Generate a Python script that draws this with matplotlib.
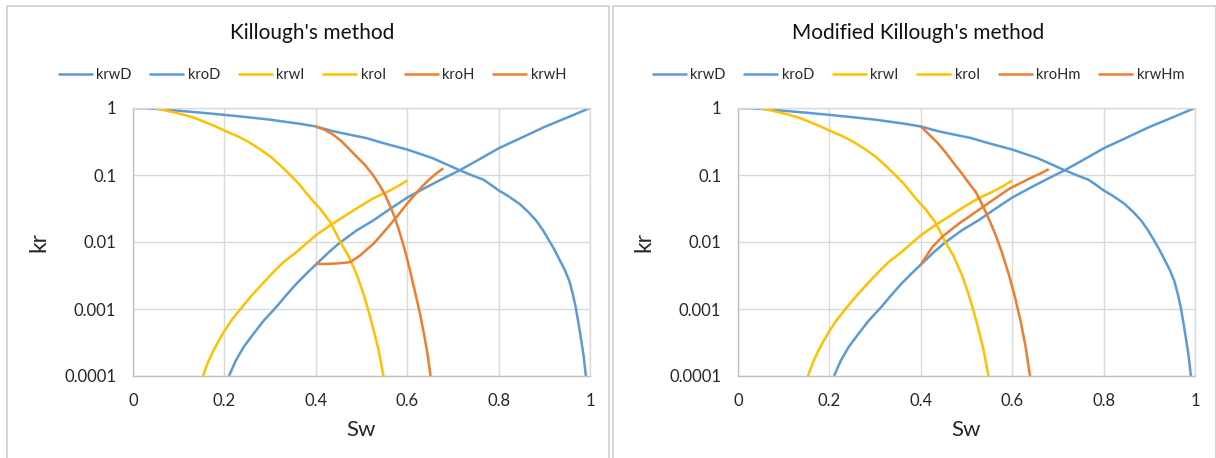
import matplotlib
matplotlib.use("Agg")
import matplotlib.pyplot as plt
from matplotlib.patches import Rectangle
from matplotlib.ticker import FixedLocator, NullLocator

plt.rcParams['font.family'] = ['Lato', 'DejaVu Sans']

# ---------------- data ----------------
krwD_x = [0.21, 0.225, 0.242, 0.264, 0.286, 0.315, 0.335, 0.358, 0.38, 0.4, 0.43, 0.453, 0.49, 0.526,
          0.562, 0.6, 0.635, 0.672, 0.694, 0.712, 0.75, 0.8, 0.85, 0.9, 0.95, 1.0]
krwD_y = [1e-4, 1.7e-4, 2.7e-4, 4.3e-4, 6.7e-4, 1.1e-3, 1.6e-3, 2.4e-3, 3.4e-3, 4.6e-3, 7.2e-3, 9.8e-3,
          1.5e-2, 2.1e-2, 3.1e-2, 4.6e-2, 6.2e-2, 8.4e-2, 0.1, 0.115, 0.16, 0.25, 0.36, 0.52, 0.72, 1.0]

kroD_x = [0.0, 0.03, 0.052, 0.1, 0.15, 0.2, 0.25, 0.3, 0.366, 0.4, 0.438, 0.474, 0.511, 0.547, 0.6, 0.656,
          0.712, 0.74, 0.767, 0.785, 0.8, 0.82, 0.846, 0.865, 0.882, 0.897, 0.911, 0.922, 0.933, 0.945,
          0.955, 0.963, 0.969, 0.975, 0.98, 0.986, 0.991]
kroD_y = [1.0, 0.99, 0.97, 0.91, 0.85, 0.79, 0.73, 0.67, 0.58, 0.53, 0.45, 0.40, 0.355, 0.30, 0.24, 0.178,
          0.12, 0.10, 0.085, 0.07, 0.059, 0.049, 0.037, 0.028, 0.021, 0.015, 0.0104, 0.0077, 0.0055, 0.0038,
          0.0026, 0.0016, 0.00104, 0.0006, 0.00037, 0.0002, 1e-4]

krwI_x = [0.153, 0.164, 0.176, 0.188, 0.2, 0.217, 0.235, 0.26, 0.286, 0.308, 0.329, 0.358, 0.38, 0.4,
          0.43, 0.455, 0.49, 0.526, 0.554, 0.578, 0.6]
krwI_y = [1e-4, 1.6e-4, 2.4e-4, 3.4e-4, 4.7e-4, 7e-4, 1e-3, 1.6e-3, 2.5e-3, 3.6e-3, 5e-3, 7.1e-3, 9.6e-3,
          1.26e-2, 1.75e-2, 2.25e-2, 3.2e-2, 4.5e-2, 5.5e-2, 6.7e-2, 8.3e-2]

kroI_x = [0.05, 0.075, 0.103, 0.13, 0.154, 0.178, 0.2, 0.225, 0.25, 0.275, 0.3, 0.322, 0.344, 0.362, 0.38,
          0.395, 0.41, 0.431, 0.443, 0.453, 0.471, 0.49, 0.504, 0.516, 0.526, 0.537, 0.548]
kroI_y = [0.98, 0.91, 0.82, 0.73, 0.63, 0.54, 0.46, 0.39, 0.32, 0.25, 0.19, 0.14, 0.10, 0.075, 0.053,
          0.04, 0.031, 0.02, 0.014, 0.0102, 0.0063, 0.0032, 0.0017, 0.0009, 0.0005, 0.00025, 1e-4]

kroH_x = [0.4, 0.42, 0.438, 0.456, 0.474, 0.492, 0.508, 0.525, 0.541, 0.552, 0.562, 0.572, 0.581, 0.595,
          0.606, 0.617, 0.628, 0.638, 0.645, 0.651]
kroH_y = [0.53, 0.47, 0.40, 0.32, 0.24, 0.18, 0.14, 0.10, 0.068, 0.05, 0.035, 0.024, 0.0158, 0.0075,
          0.0038, 0.0018, 0.00085, 0.00038, 0.0002, 1e-4]

krwH_x = [0.4, 0.42, 0.45, 0.475, 0.497, 0.511, 0.526, 0.54, 0.555, 0.577, 0.6, 0.618, 0.635, 0.65, 0.664, 0.679]
krwH_y = [0.0047, 0.0047, 0.0048, 0.005, 0.0063, 0.0077, 0.0094, 0.012, 0.0158, 0.0237, 0.0376, 0.052,
          0.07, 0.088, 0.106, 0.126]

kroHm_x = [0.4, 0.42, 0.437, 0.455, 0.475, 0.49, 0.505, 0.52, 0.532, 0.542, 0.553, 0.564, 0.578, 0.593,
           0.605, 0.618, 0.629, 0.639]
kroHm_y = [0.53, 0.39, 0.30, 0.214, 0.141, 0.105, 0.076, 0.056, 0.039, 0.028, 0.019, 0.0126, 0.0068,
           0.0032, 0.0016, 0.00068, 0.00028, 1e-4]

krwHm_x = [0.4, 0.411, 0.425, 0.447, 0.465, 0.484, 0.502, 0.52, 0.54, 0.557, 0.575, 0.593, 0.615, 0.64,
           0.66, 0.68]
krwHm_y = [0.0046, 0.006, 0.0084, 0.012, 0.015, 0.019, 0.023, 0.028, 0.035, 0.042, 0.051, 0.062, 0.074,
           0.09, 0.104, 0.122]

y_ticks = [1e-4, 1e-3, 1e-2, 1e-1, 1]
y_ticklabels = ['0.0001', '0.001', '0.01', '0.1', '1']
x_ticks = [0, 0.2, 0.4, 0.6, 0.8, 1]
x_ticklabels = ['0', '0.2', '0.4', '0.6', '0.8', '1']

titles = ["Killough's method", "Modified Killough's method"]
series_left = [("krwD", krwD_x, krwD_y), ("kroD", kroD_x, kroD_y), ("krwI", krwI_x, krwI_y),
               ("kroI", kroI_x, kroI_y), ("kroH", kroH_x, kroH_y), ("krwH", krwH_x, krwH_y)]
series_right = [("krwD", krwD_x, krwD_y), ("kroD", kroD_x, kroD_y), ("krwI", krwI_x, krwI_y),
                ("kroI", kroI_x, kroI_y), ("kroHm", kroHm_x, kroHm_y), ("krwHm", krwHm_x, krwHm_y)]
colors = ['#5B9BD5', '#5B9BD5', '#FFC000', '#FFC000', '#ED7D31', '#ED7D31']

# ---------------- layout ----------------
W, H = 1216, 458
fig = plt.figure(figsize=(W / 100, H / 100), dpi=100)

def fx(px):
    return px / W

def fy(py):
    return 1 - py / H

grid_c = '#d9d9d9'
text_c = '#262626'

panels = [
    dict(box=(7, 6, 609), plot=(133, 590), center=312),
    dict(box=(613, 6, 1216), plot=(738, 1195), center=918),
]
top_px, bot_px = 108, 376

for p, title, series in zip(panels, titles, [series_left, series_right]):
    bx0, by0, bx1 = p['box']
    fig.add_artist(Rectangle((fx(bx0), fy(H + 5)), fx(bx1) - fx(bx0), fy(by0) - fy(H + 5),
                             transform=fig.transFigure, fill=False, edgecolor='#d0d0d0', lw=1.2))
    x0, x1 = p['plot']
    ax = fig.add_axes([fx(x0), fy(bot_px), fx(x1) - fx(x0), fy(top_px) - fy(bot_px)])
    ax.set_yscale('log')
    ax.set_xlim(0, 1)
    ax.set_ylim(1e-4, 1)
    handles = []
    for (name, xs, ys), c in zip(series, colors):
        h, = ax.plot(xs, ys, color=c, lw=1.8, label=name, solid_capstyle='butt',
                     solid_joinstyle='round')
        handles.append(h)
    ax.yaxis.set_major_locator(FixedLocator(y_ticks))
    ax.yaxis.set_minor_locator(NullLocator())
    ax.set_yticklabels(y_ticklabels)
    ax.set_xticks(x_ticks)
    ax.set_xticklabels(x_ticklabels)
    ax.tick_params(length=0, labelsize=12, colors=text_c)
    ax.tick_params(axis='y', pad=12)
    ax.tick_params(axis='x', pad=12)
    ax.grid(True, color=grid_c, lw=1.0)
    ax.set_axisbelow(True)
    for s in ['top', 'right']:
        ax.spines[s].set_color(grid_c)
        ax.spines[s].set_linewidth(1.0)
    for s in ['left', 'bottom']:
        ax.spines[s].set_color('#bfbfbf')
        ax.spines[s].set_linewidth(1.0)
    ax.set_xlabel('Sw', fontsize=16, color=text_c, labelpad=8)
    ax.set_ylabel('kr', fontsize=16.5, color=text_c, labelpad=11)
    fig.text(fx(p['center']), fy(33), title, ha='center', va='center', fontsize=15, color='#111111')
    fig.legend(handles=handles, loc='center', bbox_to_anchor=(fx(p['center']), fy(75)),
               ncol=6, frameon=False, fontsize=10.5, handlelength=2.4, handletextpad=0.25,
               columnspacing=1.2, labelcolor=text_c, borderpad=0)

fig.savefig('out.png', dpi=100)
